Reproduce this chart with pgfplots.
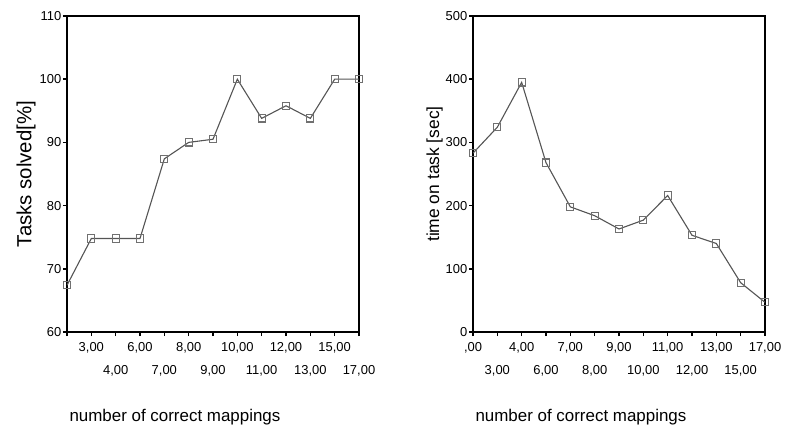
\documentclass[border=0pt]{standalone}
\usepackage{pgfplots}
\pgfplotsset{compat=1.18}
\usepackage{fontspec}
\setmainfont{Liberation Sans}

\definecolor{serie}{HTML}{555555}
\definecolor{mark}{HTML}{707070}

\pgfplotsset{
  spss/.style={
    scale only axis, width=292bp, height=316bp,
    axis line style={black, line width=1.5bp},
    tick align=outside, tick pos=left,
    major tick length=4bp,
    tick style={black, line width=1.6bp},
    xmin=0, xmax=12, xtick={0,...,12},
    every tick label/.append style={font=\fontsize{13}{15}\selectfont},
    /pgf/number format/assume math mode=true,
    xticklabel style={text height=9.5bp, inner sep=2.5bp, yshift=-3.5bp},
    yticklabel style={inner sep=1.5bp},
    xlabel style={font=\fontsize{17}{20}\selectfont, at={(axis description cs:0,0)},
      anchor=north west, yshift=-74bp, xshift=-1bp},
    ylabel style={font=\fontsize{17.5}{20}\selectfont},
  },
  serie/.style={color=serie, line width=1.1bp, mark=square,
    mark size=3.6bp, mark options={draw=mark, fill=white, line width=1.1bp}},
}

\newcommand{\dn}[1]{\raisebox{-23bp}{#1}}

\begin{document}
\begin{tikzpicture}
\path[use as bounding box] (0,0) rectangle (785bp,425bp);

\begin{axis}[spss, at={(67bp,93bp)}, anchor=south west,
  ymin=60, ymax=110, ytick={60,70,...,110},
  xticklabels={{},{3,00},\dn{4,00},{6,00},\dn{7,00},{8,00},\dn{9,00},{10,00},\dn{11,00},{12,00},\dn{13,00},{15,00},\dn{17,00}},
  xlabel={number of correct mappings},
  ylabel={Tasks solved[\%]},
  ylabel style={font=\fontsize{20.5}{24}\selectfont, yshift=-1bp},
]
\addplot[serie] coordinates {
  (0,67.4) (1,74.8) (2,74.8) (3,74.8) (4,87.4) (5,90.0) (6,90.5)
  (7,100.0) (8,93.8) (9,95.8) (10,93.8) (11,100.0) (12,100.0)};
\end{axis}

\begin{axis}[spss, at={(473bp,93bp)}, anchor=south west,
  ymin=0, ymax=500, ytick={0,100,...,500},
  xticklabels={{,00},\dn{3,00},{4,00},\dn{6,00},{7,00},\dn{8,00},{9,00},\dn{10,00},{11,00},\dn{12,00},{13,00},\dn{15,00},{17,00}},
  xlabel={number of correct mappings},
  ylabel={time on task [sec]},
  ylabel style={yshift=-2bp},
]
\addplot[serie] coordinates {
  (0,283) (1,324) (2,395) (3,268) (4,198) (5,184) (6,163)
  (7,177) (8,216) (9,153) (10,140) (11,78) (12,47)};
\end{axis}
\end{tikzpicture}
\end{document}
